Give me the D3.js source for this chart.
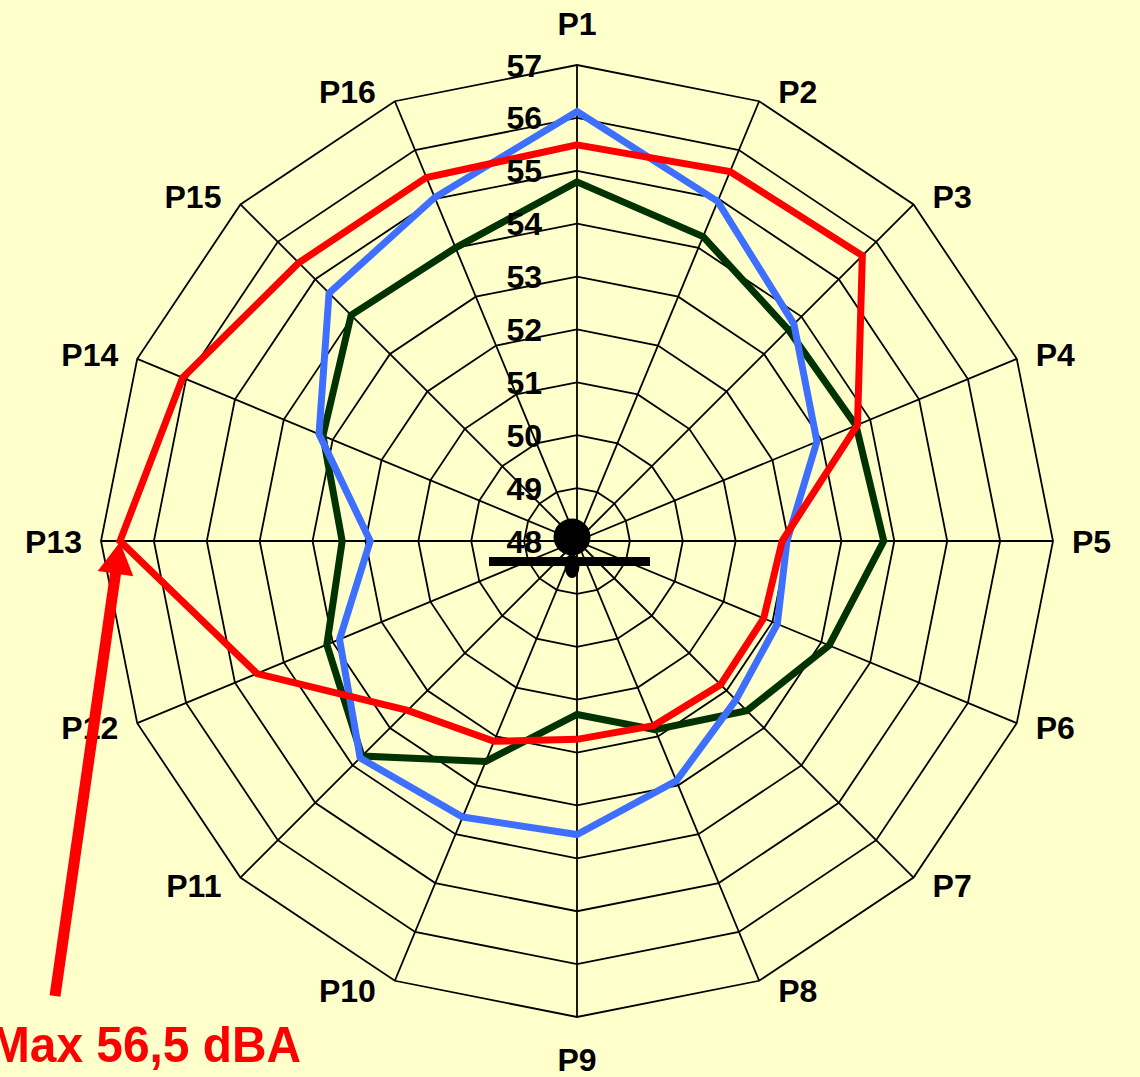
<!DOCTYPE html>
<html><head><meta charset="utf-8">
<script src="https://cdn.jsdelivr.net/npm/d3@7"></script>
<style>html,body{margin:0;padding:0;background:#FFFFCC;overflow:hidden}</style>
</head><body>
<svg id="chart" width="1140" height="1077"></svg>
<script>
const categories = ["P1","P2","P3","P4","P5","P6","P7","P8","P9","P10","P11","P12","P13","P14","P15","P16"];
const blueValues  = [56.12, 54.95, 53.80, 52.91, 51.97, 52.10, 52.25, 52.91, 53.55, 53.65, 53.80, 52.86, 51.91, 53.28, 54.63, 55.03];
const redValues   = [55.49, 55.56, 55.63, 53.74, 51.88, 51.82, 51.84, 51.78, 51.75, 52.10, 52.53, 54.55, 56.64, 56.07, 55.44, 55.44];
const greenValues = [54.79, 54.23, 53.65, 53.71, 53.80, 53.16, 52.54, 51.86, 51.28, 52.51, 53.75, 53.12, 52.44, 53.20, 54.04, 54.00];
const ringTicks = [48, 49, 50, 51, 52, 53, 54, 55, 56, 57];
const annotationText = "Max 56,5 dBA";

const svg = d3.select("#chart");
svg.append("rect").attr("width",1140).attr("height",1077).attr("fill","#FFFFCC");
const cx = 577, cy = 541, R = 476;
const g = svg.append("g").attr("transform",`translate(${cx},${cy})`);
const r = d3.scaleLinear().domain([48,57]).range([0,R]);
const step = 2*Math.PI/categories.length;
const ang = i => i*step;
const pt = (i,v) => [Math.sin(ang(i))*r(v), -Math.cos(ang(i))*r(v)];

// rings
const ringLine = d3.lineRadial().angle((d,i)=>ang(i)).radius(d=>r(d)).curve(d3.curveLinearClosed);
ringTicks.slice(1).forEach(t=>{
  g.append("path").attr("d", ringLine(categories.map(()=>t)))
   .attr("fill","none").attr("stroke","#000").attr("stroke-width",1.8);
});
// spokes
categories.forEach((c,i)=>{
  const p = pt(i,57);
  g.append("line").attr("x1",0).attr("y1",0).attr("x2",p[0]).attr("y2",p[1])
   .attr("stroke","#000").attr("stroke-width",1.8);
});

// series
const seriesLine = d3.lineRadial().angle((d,i)=>ang(i)).radius(d=>r(d)).curve(d3.curveLinearClosed);
[[greenValues,"#003300"],[blueValues,"#3F6FFF"],[redValues,"#FF0000"]].forEach(([vals,col])=>{
  g.append("path").attr("d", seriesLine(vals)).attr("fill","none")
   .attr("stroke",col).attr("stroke-width",7).attr("stroke-linejoin","miter");
});

// tick labels
ringTicks.forEach(t=>{
  g.append("text").attr("x",-35).attr("y",-r(t)).attr("dy","0.36em")
   .attr("text-anchor","end").attr("font-family","Liberation Sans, Arial, sans-serif")
   .attr("font-weight","bold").attr("font-size",32).attr("fill","#000").text(t);
});

// category labels
categories.forEach((c,i)=>{
  const a = ang(i);
  const s = Math.sin(a), co = Math.cos(a);
  const p = pt(i,57);
  const t = g.append("text").attr("text-anchor","middle").attr("dy","0.36em")
   .attr("font-family","Liberation Sans, Arial, sans-serif")
   .attr("font-weight","bold").attr("font-size",32).attr("fill","#000").text(c);
  const w = t.node().getComputedTextLength();
  let ox, oy;
  if (Math.abs(s) < 0.1) { ox = 0; oy = -co*42; }
  else { ox = Math.sign(s)*(w/2 + 19); oy = -co*11; }
  t.attr("x", p[0]+ox).attr("y", p[1]+oy);
});

// center marker
g.append("rect").attr("x",-88).attr("y",16).attr("width",161).attr("height",9).attr("fill","#000");
g.append("ellipse").attr("cx",-5).attr("cy",25).attr("rx",7.5).attr("ry",12).attr("fill","#000");
g.append("circle").attr("cx",-5).attr("cy",-4).attr("r",18.5).attr("fill","#000");

// annotation arrow to max point
const maxIdx = redValues.indexOf(d3.max(redValues));
const tip = pt(maxIdx, redValues[maxIdx]);
const tipX = cx + tip[0], tipY = cy + tip[1] + 1;
const tailX = 55, tailY = 996;
const dx = tipX - tailX, dy = tipY - tailY, L = Math.hypot(dx,dy);
const ux = dx/L, uy = dy/L, nx = -uy, ny = ux;
const headLen = 32, headW = 18;
const bx = tipX - ux*headLen, by = tipY - uy*headLen;
svg.append("line").attr("x1",tailX).attr("y1",tailY).attr("x2",bx+ux*2).attr("y2",by+uy*2)
  .attr("stroke","#FF0000").attr("stroke-width",11);
svg.append("path").attr("d",`M${tipX},${tipY}L${bx+nx*headW},${by+ny*headW}L${bx-nx*headW},${by-ny*headW}Z`)
  .attr("fill","#FF0000");
svg.append("text").attr("x",-10).attr("y",1062).attr("textLength",311).attr("lengthAdjust","spacingAndGlyphs")
  .attr("font-family","Liberation Sans, Arial, sans-serif").attr("font-weight","bold")
  .attr("font-size",50).attr("fill","#FF0000").text(annotationText);
</script>
</body></html>
